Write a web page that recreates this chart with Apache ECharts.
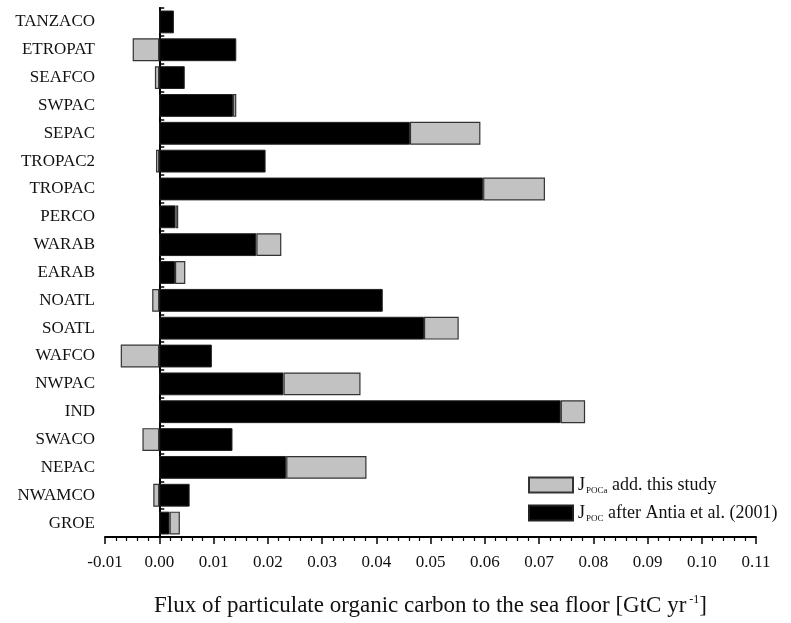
<!DOCTYPE html>
<html>
<head>
<meta charset="utf-8">
<script src="https://cdn.jsdelivr.net/npm/echarts@6/dist/echarts.min.js"></script>
<style>
html,body{margin:0;padding:0;background:#fff;}
#chart{width:791px;height:623px;}
</style>
</head>
<body>
<div id="chart"></div>
<script>
// Regions (top to bottom)
var categories = ['TANZACO','ETROPAT','SEAFCO','SWPAC','SEPAC','TROPAC2','TROPAC','PERCO','WARAB','EARAB','NOATL','SOATL','WAFCO','NWPAC','IND','SWACO','NEPAC','NWAMCO','GROE'];
// J_POC after Antia et al. (2001) [GtC/yr]
var jpoc = [0.0027,0.0142,0.0047,0.0136,0.0462,0.0196,0.0597,0.0030,0.0179,0.0029,0.0412,0.0488,0.0097,0.0229,0.0740,0.0135,0.0234,0.0056,0.0019];
// J_POCa added by this study [GtC/yr]
var jpocAdd = [null,-0.0049,-0.0008,0.0006,0.0130,-0.0006,0.0114,0.0005,0.0046,0.0019,-0.0013,0.0064,-0.0071,0.0142,0.0045,-0.0031,0.0148,-0.0011,0.0019];
var seriesNames = ['JPOCa add. this study', 'JPOC after Antia et al. (2001)'];
var xTickMin = -0.01, xTickMax = 0.11, xTickStep = 0.01;

var serif = '"Liberation Serif","DejaVu Serif",serif';
var chart = echarts.init(document.getElementById('chart'));
chart.setOption({
  backgroundColor: '#fff',
  animation: false,
  textStyle: {fontFamily: serif, color: '#111'},
  grid: {left: 105, right: 35, top: 8, bottom: 86, containLabel: false, outerBoundsMode: 'none'},
  legend: {
    orient: 'vertical',
    left: 528,
    top: 476,
    padding: 0,
    itemWidth: 44,
    itemHeight: 15,
    itemGap: 9,
    icon: 'rect',
    data: [seriesNames[0], seriesNames[1]],
    formatter: function (name) {
      if (name === seriesNames[0]) return '{j|J}{sub|POCa}{t| add. this study}';
      return '{j|J}{sub|POC}{t| after Antia et al. (2001)}';
    },
    textStyle: {
      fontFamily: serif,
      color: '#111',
      rich: {
        j: {fontSize: 18, fontFamily: serif, color: '#111'},
        sub: {fontSize: 9, fontFamily: serif, color: '#111', padding: [11, 0, 0, 1]},
        t: {fontSize: 18, fontFamily: serif, color: '#111'}
      }
    }
  },
  xAxis: {
    type: 'value',
    min: xTickMin,
    max: xTickMax,
    interval: xTickStep,
    splitLine: {show: false},
    axisLine: {show: true, onZero: false, lineStyle: {color: '#000', width: 2}},
    axisTick: {show: true, length: 7, lineStyle: {color: '#000', width: 1.5}},
    minorTick: {show: true, splitNumber: 5, length: 4, lineStyle: {color: '#000', width: 1.2}},
    axisLabel: {
      fontFamily: serif, fontSize: 17, color: '#111', margin: 17,
      formatter: function (v) { return (Math.round(v * 100) / 100).toFixed(2); }
    },
    name: '{t|Flux of particulate organic carbon to the sea floor [GtC yr}{s| -1}{t|]}',
    nameLocation: 'middle',
    nameGap: 57,
    nameTextStyle: {
      fontFamily: serif,
      rich: {
        t: {fontSize: 23, fontFamily: serif, color: '#111'},
        s: {fontSize: 12, fontFamily: serif, color: '#111', padding: [0, 0, 12, 0]}
      }
    }
  },
  yAxis: {
    type: 'category',
    data: categories,
    inverse: true,
    axisLine: {show: true, onZero: true, lineStyle: {color: '#000', width: 2}},
    axisTick: {show: true, inside: true, length: 5, lineStyle: {color: '#000', width: 1.5}},
    axisLabel: {fontFamily: serif, fontSize: 17, color: '#111', margin: 10},
    splitLine: {show: false}
  },
  series: [
    {
      name: seriesNames[1],
      type: 'bar',
      stack: 'flux',
      data: jpoc,
      barCategoryGap: '18%',
      itemStyle: {color: '#000', borderColor: '#222', borderWidth: 1}
    },
    {
      name: seriesNames[0],
      type: 'bar',
      stack: 'flux',
      data: jpocAdd,
      barCategoryGap: '18%',
      itemStyle: {color: '#c2c2c2', borderColor: '#333', borderWidth: 1.2}
    }
  ]
});
</script>
</body>
</html>
